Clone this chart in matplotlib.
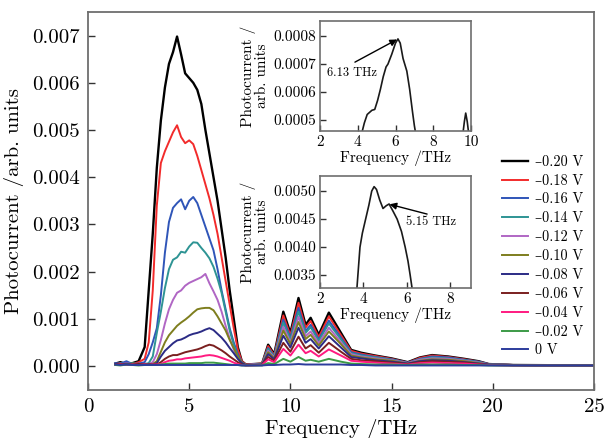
import matplotlib
matplotlib.use('Agg')
import matplotlib.pyplot as plt
from matplotlib.ticker import FormatStrFormatter
import numpy as np

plt.rcParams['font.family'] = ['cmr10', 'DejaVu Serif']
plt.rcParams['mathtext.fontset'] = 'cm'
plt.rcParams['axes.unicode_minus'] = False

# frequency grid (THz), shared by all bias curves
freq = [1.35, 1.6, 1.9, 2.2, 2.5, 2.8, 3.0, 3.2, 3.4, 3.6, 3.8, 4.0, 4.2, 4.4, 4.6, 4.8,
        5.0, 5.2, 5.4, 5.6, 5.8, 6.0, 6.2, 6.4, 6.6, 6.8, 7.0, 7.2, 7.4, 7.6, 7.8,
        8.2, 8.6, 8.9, 9.2, 9.65, 10.0, 10.4, 10.75, 11.0, 11.4, 11.9, 12.5, 13.0, 13.5,
        14.2, 15.0, 15.8, 16.4, 17.0, 17.8, 18.6, 19.3, 19.8, 21.0, 23.0, 25.0]

# photocurrent in units of 1e-4 arb. units
i_m020 = [0.5, 0.8, 0.4, 0.6, 1.0, 4.0, 16, 28, 42, 52, 59, 64, 66.5, 69.8, 66, 62,
          61, 60, 58.5, 55.5, 50, 45, 40, 35, 29, 23, 16, 10, 4, 1.0, 0.3,
          0.4, 0.5, 4.5, 2.5, 11.5, 7.0, 14.4, 8.7, 10.2, 6.6, 11.3, 7.0, 3.4, 2.8,
          2.2, 1.6, 0.8, 1.8, 2.3, 2.0, 1.5, 1.0, 0.4, 0.2, 0.15, 0.1]
i_m018 = [0.4, 0.6, 0.5, 0.4, 0.8, 1.5, 5, 16, 34, 43, 45.5, 47.5, 49.5, 51, 48.5, 47.2,
          47.8, 47, 44.5, 41.5, 38.5, 35.5, 32, 28, 23, 18, 13, 8, 3.5, 1.0, 0.3,
          0.4, 0.5, 4.2, 2.3, 10.7, 6.5, 13.4, 8.1, 9.5, 6.1, 10.5, 6.5, 3.2, 2.6,
          2.1, 1.5, 0.7, 1.7, 2.2, 1.9, 1.4, 0.9, 0.4, 0.2, 0.15, 0.1]
i_m016 = [0.6, 0.5, 1.0, 0.4, 0.5, 0.8, 2.5, 5, 8, 15, 24, 30.5, 33.5, 34.5, 35.3, 33.2,
          35.0, 35.8, 34.5, 32, 29.5, 27, 24.5, 20.5, 16, 12, 8, 5, 2.5, 0.8, 0.2,
          0.3, 0.4, 3.8, 2.1, 9.8, 6.0, 12.3, 7.4, 8.7, 5.6, 9.6, 6.0, 2.9, 2.4,
          1.9, 1.4, 0.7, 1.5, 2.0, 1.8, 1.3, 0.9, 0.4, 0.2, 0.1, 0.1]
i_m014 = [0.3, 0.5, 0.4, 0.6, 0.3, 0.4, 0.6, 2, 7, 11.5, 16.5, 20.5, 22.5, 23, 24.2, 24.0,
          25.3, 26.2, 26.1, 25, 24, 22.8, 21, 18.5, 15.5, 11.5, 7.5, 4.5, 2, 0.7, 0.2,
          0.3, 0.4, 3.6, 2.0, 9.2, 5.6, 11.5, 7.0, 8.2, 5.3, 9.0, 5.6, 2.7, 2.2,
          1.8, 1.3, 0.6, 1.4, 1.8, 1.6, 1.2, 0.8, 0.3, 0.2, 0.1, 0.1]
i_m012 = [0.4, 0.3, 0.6, 0.3, 0.4, 0.3, 0.4, 0.8, 2.5, 5.5, 9, 12, 14, 15.5, 16, 17,
          17.6, 18, 18.4, 18.8, 19.5, 17.5, 15.8, 14, 11.5, 8.5, 5.8, 3.5, 1.7, 0.6, 0.2,
          0.3, 0.3, 3.2, 1.8, 8.3, 5.0, 10.4, 6.3, 7.3, 4.8, 8.1, 5.0, 2.5, 2.0,
          1.6, 1.2, 0.6, 1.3, 1.6, 1.5, 1.1, 0.7, 0.3, 0.2, 0.1, 0.1]
i_m010 = [0.3, 0.4, 0.3, 0.5, 0.3, 0.3, 0.3, 0.4, 1.0, 3.0, 5.0, 6.5, 7.5, 8.5, 9.2, 9.8,
          10.5, 11.3, 12.0, 12.2, 12.3, 12.3, 11.8, 10.5, 9.0, 7.5, 5.5, 3.8, 2.0, 0.7, 0.2,
          0.2, 0.3, 2.9, 1.6, 7.5, 4.6, 9.3, 5.7, 6.6, 4.3, 7.3, 4.6, 2.2, 1.8,
          1.4, 1.1, 0.5, 1.1, 1.4, 1.3, 1.0, 0.6, 0.3, 0.2, 0.1, 0.1]
i_m008 = [0.4, 0.3, 0.5, 0.3, 0.4, 0.3, 0.3, 0.3, 0.6, 2.0, 3.2, 4.0, 4.8, 5.4, 5.6, 6.0,
          6.5, 6.8, 7.0, 7.3, 7.7, 8.0, 7.6, 6.8, 6.0, 5.0, 3.8, 2.7, 1.5, 0.6, 0.2,
          0.2, 0.3, 2.5, 1.4, 6.4, 3.9, 8.1, 4.9, 5.7, 3.7, 6.3, 3.9, 1.9, 1.6,
          1.2, 0.9, 0.5, 1.0, 1.2, 1.1, 0.8, 0.5, 0.3, 0.2, 0.1, 0.1]
i_m006 = [0.3, 0.4, 0.3, 0.3, 0.4, 0.3, 0.3, 0.3, 0.3, 0.8, 1.5, 2.0, 2.3, 2.3, 2.6, 2.9,
          3.1, 3.3, 3.5, 3.8, 4.2, 4.5, 4.3, 3.8, 3.3, 2.7, 2.0, 1.4, 0.8, 0.3, 0.1,
          0.2, 0.2, 1.9, 1.1, 4.9, 3.0, 6.2, 3.7, 4.4, 2.8, 4.9, 3.0, 1.5, 1.2,
          1.0, 0.7, 0.4, 0.8, 1.0, 0.9, 0.7, 0.4, 0.2, 0.1, 0.1, 0.1]
i_m004 = [0.2, 0.3, 0.2, 0.3, 0.2, 0.3, 0.2, 0.3, 0.3, 0.4, 0.8, 1.1, 1.2, 1.4, 1.4, 1.6,
          1.7, 1.8, 1.9, 2.0, 2.2, 2.3, 2.2, 2.0, 1.7, 1.4, 1.1, 0.7, 0.4, 0.2, 0.1,
          0.1, 0.2, 1.4, 0.8, 3.6, 2.2, 4.5, 2.7, 3.2, 2.0, 3.5, 2.2, 1.1, 0.9,
          0.7, 0.5, 0.3, 0.6, 0.7, 0.6, 0.5, 0.3, 0.2, 0.1, 0.1, 0.1]
i_m002 = [0.2, 0.1, 0.3, 0.2, 0.1, 0.2, 0.2, 0.2, 0.2, 0.3, 0.4, 0.5, 0.5, 0.5, 0.5, 0.5,
          0.6, 0.6, 0.6, 0.6, 0.7, 0.7, 0.7, 0.6, 0.5, 0.4, 0.3, 0.2, 0.2, 0.1, 0.1,
          0.1, 0.1, 0.6, 0.4, 1.5, 0.9, 1.9, 1.1, 1.3, 0.9, 1.5, 0.9, 0.5, 0.4,
          0.3, 0.3, 0.2, 0.3, 0.3, 0.3, 0.2, 0.2, 0.1, 0.1, 0.1, 0.1]
i_0 = [0.3, 0.2, 0.3, 0.2, 0.2, 0.2, 0.2, 0.2, 0.2, 0.2, 0.2, 0.2, 0.2, 0.2, 0.2, 0.2,
       0.2, 0.2, 0.2, 0.2, 0.2, 0.2, 0.2, 0.2, 0.2, 0.2, 0.2, 0.2, 0.2, 0.1, 0.1,
       0.1, 0.1, 0.2, 0.2, 0.3, 0.3, 0.4, 0.3, 0.3, 0.3, 0.3, 0.3, 0.2, 0.2,
       0.1, 0.1, 0.1, 0.1, 0.1, 0.1, 0.1, 0.1, 0.1, 0.1, 0.1, 0.1]

bias_labels = ['–0.20 V', '–0.18 V', '–0.16 V', '–0.14 V', '–0.12 V', '–0.10 V',
               '–0.08 V', '–0.06 V', '–0.04 V', '–0.02 V', '0 V']
series = [i_m020, i_m018, i_m016, i_m014, i_m012, i_m010, i_m008, i_m006, i_m004, i_m002, i_0]
colors = ['#000000', '#F22B2B', '#2F55B8', '#2E9494', '#B066C4', '#7E7E1E',
          '#2B2B85', '#7A1F1F', '#FF1A80', '#3C9A46', '#2C3C9C']

# zoomed curve at -0.08 V (top inset)
f_in1 = [4.2, 4.35, 4.5, 4.75, 4.9, 5.05, 5.2, 5.35, 5.5, 5.6, 5.8, 6.0, 6.13, 6.25,
         6.4, 6.6, 6.75, 6.9, 7.0, 7.1, 9.55, 9.65, 9.72, 9.8, 9.9]
i_in1 = [0.00045, 0.00049, 0.00052, 0.000535, 0.000538, 0.00057, 0.00061, 0.000655, 0.00069, 0.000700,
         0.000735, 0.000775, 0.000790, 0.000775, 0.00072, 0.000675, 0.00061, 0.00053, 0.00048, 0.00044,
         0.00044, 0.000495, 0.000525, 0.000495, 0.00044]

# zoomed curve at -0.18 V (lower inset)
f_in2 = [3.6, 3.7, 3.84, 3.95, 4.1, 4.25, 4.38, 4.49, 4.6, 4.75, 4.9, 5.05, 5.18,
         5.35, 5.55, 5.75, 5.92, 6.05, 6.15, 6.3]
i_in2 = [0.00300, 0.00327, 0.00400, 0.00425, 0.00450, 0.00475, 0.00500, 0.00508, 0.00503, 0.00484,
         0.00469, 0.00474, 0.00477, 0.00465, 0.00450, 0.00428, 0.00400, 0.00375, 0.00350, 0.00310]

fig = plt.figure(figsize=(6.05, 4.38), dpi=100)
fig.patch.set_facecolor('white')

spine_c = '#6E6E6E'


def style_axes(a, lw=1.3, tl=5):
    for s in a.spines.values():
        s.set_color(spine_c)
        s.set_linewidth(lw)
    a.tick_params(direction='in', length=tl, width=1.0, color='#333333', top=False, right=False)


# main panel
ax = fig.add_axes([88 / 605, 1 - 390 / 438, (594 - 88) / 605, (390 - 12) / 438])
for vals, lab, c in zip(series, bias_labels, colors):
    lw = 1.7 if c == '#000000' else 1.4
    ax.plot(freq, np.array(vals) * 1e-4, color=c, lw=lw, label=lab)
ax.set_xlim(0, 25)
ax.set_ylim(-0.00051, 0.0075)
ax.set_xticks([0, 5, 10, 15, 20, 25])
ax.set_yticks([0, 0.001, 0.002, 0.003, 0.004, 0.005, 0.006, 0.007])
ax.yaxis.set_major_formatter(FormatStrFormatter('%.3f'))
style_axes(ax)
ax.tick_params(labelsize=15, pad=6)
ax.set_xlabel('Frequency /THz', fontsize=15, labelpad=2)
ax.set_ylabel('Photocurrent /arb. units', fontsize=15, labelpad=6)

leg = ax.legend(loc='upper left', bbox_to_anchor=(492 / 605, 1 - 145 / 438),
                bbox_transform=fig.transFigure, frameon=False, fontsize=10.3,
                handlelength=1.85, handletextpad=0.45, labelspacing=0.36, borderpad=0.2)

# top inset: -0.08 V near 6.13 THz
ax1 = fig.add_axes([320 / 605, 1 - 131 / 438, (471 - 320) / 605, (131 - 21) / 438])
ax1.plot(f_in1[:20], i_in1[:20], color='#1a1a1a', lw=1.2)
ax1.plot(f_in1[20:], i_in1[20:], color='#1a1a1a', lw=1.2)
ax1.set_xlim(2, 10)
ax1.set_ylim(0.000461, 0.000854)
ax1.set_xticks([2, 4, 6, 8, 10])
ax1.set_yticks([0.0005, 0.0006, 0.0007, 0.0008])
ax1.yaxis.set_major_formatter(FormatStrFormatter('%.4f'))
style_axes(ax1, lw=1.2, tl=4)
ax1.tick_params(labelsize=11, pad=3)
ax1.set_xlabel('Frequency /THz', fontsize=11, labelpad=1)
ax1.set_ylabel('Photocurrent /\narb. units', fontsize=11, labelpad=3, linespacing=0.9)
ax1.text(3.7, 0.00067, '6.13 THz', fontsize=9, ha='center', va='center')
ax1.annotate('', xy=(6.08, 0.000788), xytext=(3.85, 0.000707),
             arrowprops=dict(arrowstyle='-|>', color='k', lw=1.0, mutation_scale=10,
                             shrinkA=0, shrinkB=0))

# lower inset: -0.18 V near 5.15 THz
ax2 = fig.add_axes([320 / 605, 1 - 288 / 438, (471 - 320) / 605, (288 - 176) / 438])
ax2.plot(f_in2, i_in2, color='#1a1a1a', lw=1.2)
ax2.set_xlim(2, 8.95)
ax2.set_ylim(0.00327, 0.00527)
ax2.set_xticks([2, 4, 6, 8])
ax2.set_yticks([0.0035, 0.0040, 0.0045, 0.0050])
ax2.yaxis.set_major_formatter(FormatStrFormatter('%.4f'))
style_axes(ax2, lw=1.2, tl=4)
ax2.tick_params(labelsize=11, pad=3)
ax2.set_xlabel('Frequency /THz', fontsize=11, labelpad=1)
ax2.set_ylabel('Photocurrent /\narb. units', fontsize=11, labelpad=3, linespacing=0.9)
ax2.text(7.1, 0.00445, '5.15 THz', fontsize=9, ha='center', va='center')
ax2.annotate('', xy=(5.2, 0.004765), xytext=(6.93, 0.00459),
             arrowprops=dict(arrowstyle='-|>', color='k', lw=1.0, mutation_scale=10,
                             shrinkA=0, shrinkB=0))

fig.savefig('out.png', dpi=100, facecolor='white')
